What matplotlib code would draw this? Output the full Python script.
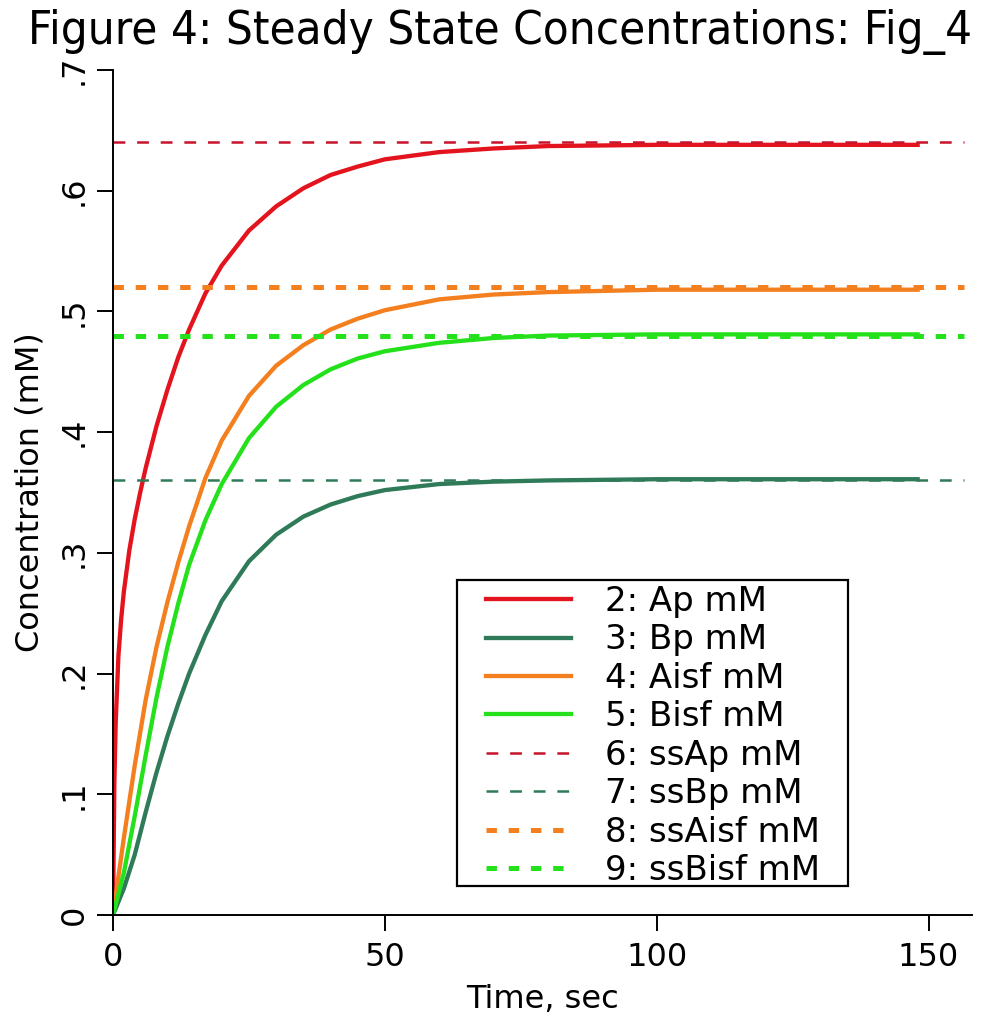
import matplotlib
matplotlib.use("Agg")
import matplotlib.pyplot as plt
from matplotlib.patches import Rectangle

plt.rcParams['font.family'] = ['DejaVu Sans']
plt.rcParams['lines.scale_dashes'] = False

# ---- data ----
t_Ap = [0, 0.25, 0.5, 1, 1.5, 2, 3, 4, 5, 6, 8, 10, 12, 14, 17, 20, 25, 30,
        35, 40, 45, 50, 60, 70, 80, 100, 148]
Ap = [0, 0.11, 0.16, 0.215, 0.245, 0.268, 0.302, 0.328, 0.35, 0.37, 0.405,
      0.435, 0.462, 0.485, 0.515, 0.538, 0.567, 0.587, 0.602, 0.613, 0.620,
      0.626, 0.632, 0.635, 0.637, 0.638, 0.638]

t_Aisf = [0, 2, 4, 6, 8, 10, 12, 14, 17, 20, 25, 30, 35, 40, 45, 50, 60, 70,
          80, 100, 148]
Aisf = [0, 0.064, 0.124, 0.178, 0.222, 0.259, 0.292, 0.322, 0.362, 0.393,
        0.430, 0.455, 0.472, 0.485, 0.494, 0.501, 0.510, 0.514, 0.516, 0.518,
        0.518]

t_Bisf = [0, 2, 4, 6, 8, 10, 12, 14, 17, 20, 25, 30, 35, 40, 45, 50, 60, 70,
          80, 100, 148]
Bisf = [0, 0.035, 0.082, 0.132, 0.180, 0.222, 0.258, 0.290, 0.327, 0.357,
        0.395, 0.421, 0.439, 0.452, 0.461, 0.467, 0.474, 0.478, 0.480, 0.481,
        0.481]

t_Bp = [0, 2, 4, 6, 8, 10, 12, 14, 17, 20, 25, 30, 35, 40, 45, 50, 60, 70,
        80, 100, 148]
Bp = [0, 0.022, 0.050, 0.085, 0.118, 0.148, 0.175, 0.200, 0.232, 0.260, 0.293,
      0.315, 0.330, 0.340, 0.347, 0.352, 0.357, 0.359, 0.360, 0.361, 0.361]

ss_time = [0, 156.6]
ssAp = 0.64
ssBp = 0.36
ssAisf = 0.52
ssBisf = 0.48

labels = ["2: Ap mM", "3: Bp mM", "4: Aisf mM", "5: Bisf mM",
          "6: ssAp mM", "7: ssBp mM", "8: ssAisf mM", "9: ssBisf mM"]
xticks = [0, 50, 100, 150]
yticks = [0, 0.1, 0.2, 0.3, 0.4, 0.5, 0.6, 0.7]
yticklabels = ["0", ".1", ".2", ".3", ".4", ".5", ".6", ".7"]

c_red = "#E4141E"
c_dkg = "#2F7A58"
c_org = "#F47F1E"
c_grn = "#24E11C"

W, H = 995, 1023
fig = plt.figure(figsize=(W / 100, H / 100), dpi=100)
ax = fig.add_axes([113 / W, 1 - 915 / H, (972 - 113) / W, (915 - 70) / H])

lw = 3.1
h = []
h += ax.plot(t_Ap, Ap, color=c_red, lw=lw)
h += ax.plot(t_Bp, Bp, color=c_dkg, lw=lw)
h += ax.plot(t_Aisf, Aisf, color=c_org, lw=lw)
h += ax.plot(t_Bisf, Bisf, color=c_grn, lw=lw)
h += ax.plot(ss_time, [ssAp, ssAp], color="#C8142A", lw=1.8, dashes=(8.5, 8.5))
h += ax.plot(ss_time, [ssBp, ssBp], color=c_dkg, lw=1.8, dashes=(8.5, 8.5))
h += ax.plot(ss_time, [ssAisf, ssAisf], color=c_org, lw=3.6, dashes=(7.5, 8.5))
h += ax.plot(ss_time, [ssBisf, ssBisf], color=c_grn, lw=3.6, dashes=(7.5, 8.5))

ax.set_xlim(0, 158)
ax.set_ylim(0, 0.7)
ax.set_xticks(xticks)
ax.set_yticks(yticks)
ax.set_yticklabels(yticklabels, rotation=90, va="center")
for s in ["top", "right"]:
    ax.spines[s].set_visible(False)
for s in ["left", "bottom"]:
    ax.spines[s].set_linewidth(1.4)
ax.tick_params(axis="both", direction="out", length=11.5, width=1.4,
               labelsize=23)
ax.tick_params(axis="x", pad=8)
ax.tick_params(axis="y", pad=5)

ax.set_xlabel("Time, sec", fontsize=23, labelpad=8)
ax.set_ylabel("Concentration (mM)", fontsize=23, labelpad=10)

# legend frame drawn as a box, entries placed inside it
box = Rectangle((457 / W, 1 - 886 / H), (848 - 457) / W, (886 - 580) / H,
                transform=fig.transFigure, facecolor="white",
                edgecolor="black", lw=1.6, zorder=5, clip_on=False)
ax.add_patch(box)
leg = ax.legend(h, labels, loc="upper left",
                bbox_to_anchor=(486 / W, 1 - 585 / H), bbox_transform=fig.transFigure,
                borderaxespad=0, borderpad=0, fontsize=24.5, handlelength=2.5,
                handletextpad=1.0, labelspacing=0.16, frameon=False)
leg.set_zorder(6)

fig.text(28 / W, 1 - 44 / H, "Figure 4: Steady State Concentrations: Fig_4",
         fontsize=34, fontstretch="condensed", ha="left", va="baseline")

fig.savefig("out.png", dpi=100, facecolor="white")
